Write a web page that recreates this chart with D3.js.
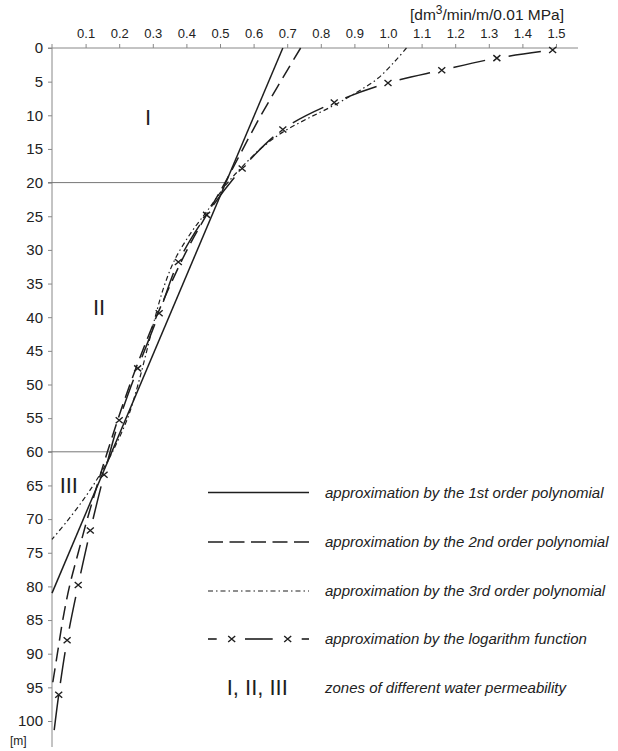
<!DOCTYPE html>
<html>
<head>
<meta charset="utf-8">
<script src="https://cdn.jsdelivr.net/npm/d3@7"></script>
<style>
  body { margin: 0; background: #fff; }
  svg { display: block; font-family: "Liberation Sans", Arial, sans-serif; }
  .axis text { fill: #222; }
  .axis line { stroke: #888; }
</style>
</head>
<body>
<div id="container"></div>
<script>
// ticks
const flow_ticks = [0.1, 0.2, 0.3, 0.4, 0.5, 0.6, 0.7, 0.8, 0.9, 1.0, 1.1, 1.2, 1.3, 1.4, 1.5];
const depth_ticks = [0, 5, 10, 15, 20, 25, 30, 35, 40, 45, 50, 55, 60, 65, 70, 75, 80, 85, 90, 95, 100];

// 1st order polynomial (straight)
const lin_depth = [0, 81];
const lin_flow = [0.687, 0];

// 2nd order polynomial
const poly2_depth = [0, 10, 20, 30, 40, 50, 60, 70, 75, 80, 85, 90, 95];
const poly2_flow = [0.740, 0.622, 0.515, 0.402, 0.310, 0.232, 0.165, 0.105, 0.078, 0.052, 0.032, 0.016, 0];

// 3rd order polynomial
const poly3_depth = [0, 2, 4.5, 6.5, 8.5, 10.5, 12.5, 15, 17.6, 20.2, 24, 27.5, 31.5, 35.5, 40, 45, 50, 55, 60, 64, 67, 70.3, 73];
const poly3_flow = [1.055, 1.02, 0.97, 0.91, 0.84, 0.76, 0.687, 0.62, 0.567, 0.52, 0.465, 0.413, 0.365, 0.333, 0.307, 0.282, 0.256, 0.225, 0.18, 0.135, 0.095, 0.045, 0];

// logarithm function (markers, last point is the line end)
const log_depth = [0.3, 1.5, 3.3, 5.2, 8.1, 12.1, 17.9, 24.8, 31.8, 39.4, 47.6, 55.3, 63.4, 71.7, 79.8, 88, 96.1, 102.8];
const log_flow = [1.49, 1.324, 1.16, 1.0, 0.84, 0.687, 0.566, 0.46, 0.376, 0.319, 0.255, 0.2, 0.155, 0.114, 0.078, 0.045, 0.02, 0.003];

// zones
const zone_names = ["I", "II", "III"];
const zone_label_depth = [10.2, 38.5, 65];
const zone_label_flow = [0.286, 0.14, 0.05];
const zone_bounds = [20, 60];
const zone_bound_end = [0.515, 0.17];

const legend_labels = [
  "approximation by the 1st order polynomial",
  "approximation by the 2nd order polynomial",
  "approximation by the 3rd order polynomial",
  "approximation by the logarithm function",
  "zones of different water permeability"
];

var W = 618, H = 751;
var ink = "#1e1e1e";

var svg = d3.select("#container").append("svg")
    .attr("width", W)
    .attr("height", H);

var x = d3.scaleLinear().domain([0, 1.5]).range([52, 556]);
var y = d3.scaleLinear().domain([0, 100]).range([48, 721]);

var pts = function(dep, fl){
    return dep.map(function(d, i){ return [x(fl[i]), y(d)]; });
};

// axes
var top_axis = svg.append("g")
    .attr("class", "axis")
    .attr("transform", "translate(0," + y(0) + ")")
    .call(d3.axisTop(x).tickValues(flow_ticks).tickSize(4).tickPadding(6)
          .tickFormat(d3.format(".1f")));
top_axis.select(".domain").remove();
top_axis.selectAll("text").style("font-size", "13px");

var left_axis = svg.append("g")
    .attr("class", "axis")
    .attr("transform", "translate(" + x(0) + ",0)")
    .call(d3.axisLeft(y).tickValues(depth_ticks).tickSize(4).tickPadding(5));
left_axis.select(".domain").remove();
left_axis.selectAll("text").style("font-size", "15px");

svg.append("line")
    .attr("x1", x(0) - 4).attr("x2", 578)
    .attr("y1", y(0)).attr("y2", y(0))
    .attr("stroke", "#888");
svg.append("line")
    .attr("x1", x(0)).attr("x2", x(0))
    .attr("y1", y(0) - 4).attr("y2", 747)
    .attr("stroke", "#888");

// units
var unit = svg.append("text")
    .attr("x", 410).attr("y", 20)
    .style("font-size", "15.5px")
    .attr("fill", "#222");
unit.append("tspan").text("[dm");
unit.append("tspan").attr("dy", -6).style("font-size", "12px").text("3");
unit.append("tspan").attr("dy", 6).text("/min/m/0.01 MPa]");

svg.append("text")
    .attr("x", 10).attr("y", 745)
    .style("font-size", "12px")
    .attr("fill", "#222")
    .text("[m]");

// zone boundaries
svg.selectAll("line.zone")
    .data(zone_bounds)
    .enter().append("line")
    .attr("class", "zone")
    .attr("x1", x(0) - 4)
    .attr("x2", function(d, i){ return x(zone_bound_end[i]); })
    .attr("y1", function(d){ return y(d); })
    .attr("y2", function(d){ return y(d); })
    .attr("stroke", "#777");

svg.selectAll("text.zlabel")
    .data(zone_names)
    .enter().append("text")
    .attr("class", "zlabel")
    .attr("x", function(d, i){ return x(zone_label_flow[i]); })
    .attr("y", function(d, i){ return y(zone_label_depth[i]); })
    .attr("dy", "0.36em")
    .attr("text-anchor", "middle")
    .style("font-size", "22px")
    .attr("fill", ink)
    .text(function(d){ return d; });

// curves
var line = d3.line().curve(d3.curveCatmullRom.alpha(0.5));

svg.append("path")
    .attr("d", line(pts(lin_depth, lin_flow)))
    .attr("fill", "none").attr("stroke", ink).attr("stroke-width", 1.5);

svg.append("path")
    .attr("d", line(pts(poly2_depth, poly2_flow)))
    .attr("fill", "none").attr("stroke", ink).attr("stroke-width", 1.5)
    .attr("stroke-dasharray", "14,7");

svg.append("path")
    .attr("d", line(pts(poly3_depth, poly3_flow)))
    .attr("fill", "none").attr("stroke", ink).attr("stroke-width", 1.2)
    .attr("stroke-dasharray", "5,3,1.5,3");

// log curve: one long dash between markers, gaps round each marker
var log_pts = pts(log_depth, log_flow);
var log_path = svg.append("path")
    .attr("d", line(log_pts))
    .attr("fill", "none").attr("stroke", ink).attr("stroke-width", 1.5);

var node = log_path.node();
var total = node.getTotalLength();
var len_at = function(py){
    var lo = 0, hi = total;
    for (var k = 0; k < 40; k++){
        var mid = (lo + hi) / 2;
        if (node.getPointAtLength(mid).y < py) lo = mid; else hi = mid;
    }
    return lo;
};
var gap = 12;
var marks = log_pts.slice(0, log_pts.length - 1);
var lens = marks.map(function(p){ return len_at(p[1]); });
var dash = [0, gap];
for (var i = 1; i < lens.length; i++){
    dash.push(lens[i] - lens[i-1] - 2 * gap);
    dash.push(2 * gap);
}
dash[dash.length - 1] = gap;
dash.push(total - lens[lens.length - 1] - gap + 2);
dash.push(50);
log_path.attr("stroke-dasharray", dash.join(","));

var xmark = "M-3.5,-3L3.5,3M-3.5,3L3.5,-3";
svg.selectAll("path.mark")
    .data(marks)
    .enter().append("path")
    .attr("class", "mark")
    .attr("d", xmark)
    .attr("transform", function(d){ return "translate(" + d[0] + "," + d[1] + ")"; })
    .attr("stroke", ink).attr("stroke-width", 1.4).attr("fill", "none");

// legend
var leg_y = [492.5, 542, 591, 639, 687.5];
var lx0 = 208, lx1 = 309, ltx = 325;
var lg = svg.append("g");

lg.append("line").attr("x1", lx0).attr("x2", lx1).attr("y1", leg_y[0]).attr("y2", leg_y[0])
    .attr("stroke", ink).attr("stroke-width", 1.6);
lg.append("line").attr("x1", lx0).attr("x2", lx1).attr("y1", leg_y[1]).attr("y2", leg_y[1])
    .attr("stroke", ink).attr("stroke-width", 1.6).attr("stroke-dasharray", "15,6.5");
lg.append("line").attr("x1", lx0).attr("x2", lx1).attr("y1", leg_y[2]).attr("y2", leg_y[2])
    .attr("stroke", ink).attr("stroke-width", 1.2).attr("stroke-dasharray", "5,3,1.5,3");

[[lx0, 216.7], [245, 272.7], [301.7, lx1]].forEach(function(s){
    lg.append("line").attr("x1", s[0]).attr("x2", s[1]).attr("y1", leg_y[3]).attr("y2", leg_y[3])
        .attr("stroke", ink).attr("stroke-width", 1.6);
});
[231.7, 287.7].forEach(function(cx){
    lg.append("path").attr("d", xmark)
        .attr("transform", "translate(" + cx + "," + leg_y[3] + ")")
        .attr("stroke", ink).attr("stroke-width", 1.4).attr("fill", "none");
});
lg.append("text")
    .attr("x", 226.7).attr("y", leg_y[4]).attr("dy", "0.36em")
    .style("font-size", "22px").attr("fill", ink)
    .text(zone_names.join(", "));

lg.selectAll("text.ltext")
    .data(legend_labels)
    .enter().append("text")
    .attr("class", "ltext")
    .attr("x", ltx)
    .attr("y", function(d, i){ return leg_y[i]; })
    .attr("dy", "0.35em")
    .style("font-size", "15px")
    .style("font-style", "italic")
    .attr("fill", "#222")
    .text(function(d){ return d; });
</script>
</body>
</html>
